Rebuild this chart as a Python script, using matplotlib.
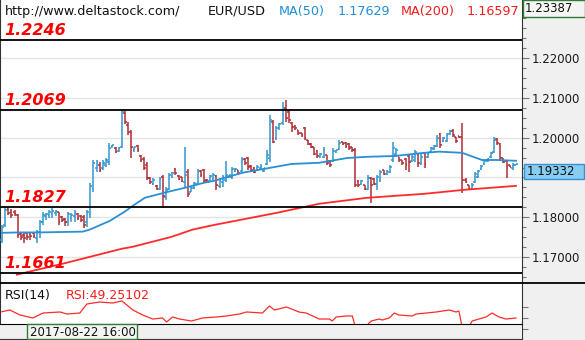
import numpy as np
import matplotlib.pyplot as plt
import matplotlib.transforms as mtransforms
from matplotlib.patches import Rectangle
from matplotlib.lines import Line2D
from matplotlib.ticker import FixedLocator, MultipleLocator, FuncFormatter, NullFormatter

# ---------------------------------------------------------------------
# EUR/USD bars (open / high / low / close)
# ---------------------------------------------------------------------
opens = [
    1.1744, 1.1781, 1.1821, 1.1814, 1.1814, 1.1806, 1.1759, 1.1756, 1.1761, 1.1759,
    1.1761, 1.1749, 1.1764, 1.1789, 1.1804, 1.1806, 1.1809, 1.1811, 1.1814, 1.1801,
    1.1796, 1.1789, 1.1799, 1.1804, 1.1809, 1.1804, 1.1801, 1.1789, 1.1809, 1.1874,
    1.1924, 1.1932, 1.1924, 1.1932, 1.1939, 1.1977, 1.1975, 1.1967, 1.1977, 1.2062,
    1.2032, 1.2015, 1.1970, 1.1980, 1.1954, 1.1947, 1.1932,
    1.1899, 1.1884, 1.1879, 1.1872, 1.1902, 1.1852, 1.1872,
    1.1904, 1.1922, 1.1904, 1.1902, 1.1889, 1.1914, 1.1864,
    1.1874, 1.1884, 1.1917, 1.1919, 1.1894, 1.1892,
    1.1897, 1.1904, 1.1879, 1.1889, 1.1894, 1.1902, 1.1902, 1.1917,
    1.1919, 1.1917, 1.1947, 1.1949, 1.1929, 1.1924, 1.1919, 1.1924, 1.1917,
    1.1934, 1.1949, 1.2040, 1.2000, 1.2025, 1.2037, 1.2075, 1.2065,
    1.2037, 1.2030, 1.2020, 1.2012, 1.2025, 1.1995, 1.1985, 1.1977,
    1.1967, 1.1952, 1.1952, 1.1957, 1.1942, 1.1942, 1.1965,
    1.1972, 1.1990, 1.1987, 1.1985, 1.1977, 1.1970, 1.1892, 1.1884,
    1.1882, 1.1872, 1.1899, 1.1897, 1.1884, 1.1894, 1.1919,
    1.1909, 1.1914, 1.1944, 1.1959, 1.1952, 1.1944, 1.1947,
    1.1954, 1.1942, 1.1944, 1.1959, 1.1934, 1.1962, 1.1952,
    1.1965, 1.1972, 1.1980, 1.2010, 1.1992,
    1.1992, 1.2010, 1.2017, 1.2002, 1.2005, 1.2002, 1.1894, 1.1882,
    1.1872, 1.1889, 1.1902, 1.1922, 1.1934, 1.1942,
    1.1952, 1.1965, 1.1997, 1.1985, 1.1949, 1.1942, 1.1932,
    1.1924, 1.1932,
]
highs = [
    1.1781, 1.1826, 1.1826, 1.1821, 1.1819, 1.1809, 1.1764, 1.1764, 1.1764, 1.1761,
    1.1764, 1.1769, 1.1794, 1.1814, 1.1811, 1.1819, 1.1824, 1.1819, 1.1814, 1.1804,
    1.1799, 1.1814, 1.1811, 1.1819, 1.1811, 1.1806, 1.1806, 1.1819, 1.1887, 1.1944,
    1.1944, 1.1939, 1.1944, 1.1949, 1.1987, 1.1982, 1.1977, 1.1977, 1.2070, 1.2067,
    1.2040, 1.2020, 1.1977, 1.1982, 1.1957, 1.1952, 1.1939,
    1.1902, 1.1899, 1.1882, 1.1902, 1.1907, 1.1877, 1.1912,
    1.1914, 1.1924, 1.1907, 1.1902, 1.1977, 1.1922, 1.1877,
    1.1889, 1.1922, 1.1919, 1.1922, 1.1897, 1.1907,
    1.1912, 1.1907, 1.1899, 1.1907, 1.1942, 1.1907, 1.1927, 1.1924,
    1.1919, 1.1952, 1.1949, 1.1952, 1.1932, 1.1927, 1.1932, 1.1934, 1.1924,
    1.1970, 1.2057, 1.2045, 1.2030, 1.2037, 1.2090, 1.2095, 1.2070,
    1.2040, 1.2032, 1.2020, 1.2012, 1.2027, 1.1995, 1.1987, 1.1977,
    1.1970, 1.1962, 1.1977, 1.1957, 1.1944, 1.1975, 1.1970,
    1.1995, 1.1990, 1.1990, 1.1987, 1.1977, 1.1975, 1.1894, 1.1894,
    1.1882, 1.1907, 1.1902, 1.1899, 1.1907, 1.1919, 1.1919,
    1.1919, 1.1932, 1.1990, 1.1975, 1.1952, 1.1944, 1.1949,
    1.1957, 1.1957, 1.1970, 1.1962, 1.1962, 1.1965, 1.1965,
    1.1977, 1.1982, 1.2007, 1.2012, 1.2002,
    1.2012, 1.2020, 1.2022, 1.2002, 1.2005, 1.2037, 1.1899, 1.1882,
    1.1887, 1.1914, 1.1919, 1.1932, 1.1944, 1.1949,
    1.1965, 1.2002, 1.2000, 1.1987, 1.1949, 1.1944, 1.1932,
    1.1937, 1.1934,
]
lows = [
    1.1736, 1.1776, 1.1806, 1.1799, 1.1804, 1.1749, 1.1744, 1.1736, 1.1744, 1.1744,
    1.1749, 1.1736, 1.1749, 1.1781, 1.1794, 1.1799, 1.1799, 1.1804, 1.1781, 1.1789,
    1.1779, 1.1779, 1.1789, 1.1789, 1.1794, 1.1789, 1.1774, 1.1776, 1.1799, 1.1864,
    1.1914, 1.1914, 1.1919, 1.1927, 1.1932, 1.1975, 1.1962, 1.1965, 1.1975, 1.2035,
    1.2007, 1.1949, 1.1965, 1.1965, 1.1939, 1.1919, 1.1894,
    1.1884, 1.1882, 1.1869, 1.1869, 1.1824, 1.1844, 1.1869,
    1.1899, 1.1907, 1.1894, 1.1889, 1.1877, 1.1852, 1.1864,
    1.1872, 1.1882, 1.1902, 1.1889, 1.1887, 1.1889,
    1.1894, 1.1869, 1.1874, 1.1877, 1.1889, 1.1899, 1.1897, 1.1914,
    1.1907, 1.1914, 1.1932, 1.1919, 1.1917, 1.1912, 1.1917, 1.1919, 1.1914,
    1.1932, 1.1939, 1.1987, 1.1995, 1.2020, 1.2032, 1.2040, 1.2037,
    1.2015, 1.2020, 1.2007, 1.2002, 1.1995, 1.1982, 1.1975, 1.1957,
    1.1949, 1.1949, 1.1949, 1.1932, 1.1927, 1.1939, 1.1962,
    1.1970, 1.1982, 1.1975, 1.1970, 1.1965, 1.1877, 1.1877, 1.1882,
    1.1869, 1.1869, 1.1836, 1.1882, 1.1869, 1.1889, 1.1907,
    1.1907, 1.1912, 1.1939, 1.1952, 1.1939, 1.1932, 1.1919,
    1.1914, 1.1939, 1.1939, 1.1927, 1.1932, 1.1924, 1.1949,
    1.1962, 1.1970, 1.1977, 1.1975, 1.1990,
    1.1990, 1.2007, 1.2002, 1.1987, 1.2000, 1.1862, 1.1887, 1.1869,
    1.1869, 1.1887, 1.1899, 1.1919, 1.1932, 1.1939,
    1.1949, 1.1962, 1.1982, 1.1944, 1.1937, 1.1899, 1.1927,
    1.1919, 1.1932,
]
closes = [
    1.1776, 1.1819, 1.1811, 1.1806, 1.1809, 1.1756, 1.1751, 1.1749, 1.1751, 1.1754,
    1.1754, 1.1764, 1.1789, 1.1806, 1.1809, 1.1814, 1.1816, 1.1816, 1.1789, 1.1794,
    1.1789, 1.1809, 1.1806, 1.1814, 1.1799, 1.1794, 1.1781, 1.1814, 1.1879, 1.1937,
    1.1939, 1.1919, 1.1937, 1.1944, 1.1975, 1.1982, 1.1965, 1.1975, 1.2065, 1.2040,
    1.2015, 1.1977, 1.1977, 1.1970, 1.1944, 1.1924, 1.1899,
    1.1889, 1.1894, 1.1872, 1.1897, 1.1854, 1.1869, 1.1907,
    1.1912, 1.1912, 1.1897, 1.1892, 1.1907, 1.1859, 1.1874,
    1.1887, 1.1914, 1.1907, 1.1892, 1.1889, 1.1904,
    1.1907, 1.1882, 1.1894, 1.1902, 1.1907, 1.1907, 1.1922, 1.1922,
    1.1912, 1.1944, 1.1937, 1.1927, 1.1919, 1.1914, 1.1927, 1.1929, 1.1924,
    1.1957, 1.2045, 1.1990, 1.2025, 1.2035, 1.2075, 1.2050, 1.2045,
    1.2027, 1.2025, 1.2012, 1.2007, 1.2000, 1.1985, 1.1977, 1.1959,
    1.1954, 1.1959, 1.1970, 1.1937, 1.1932, 1.1967, 1.1970,
    1.1987, 1.1985, 1.1980, 1.1975, 1.1970, 1.1882, 1.1882, 1.1892,
    1.1872, 1.1899, 1.1882, 1.1884, 1.1902, 1.1914, 1.1909,
    1.1917, 1.1927, 1.1975, 1.1970, 1.1944, 1.1937, 1.1932,
    1.1939, 1.1952, 1.1965, 1.1937, 1.1952, 1.1934, 1.1959,
    1.1975, 1.1980, 1.2000, 1.1982, 1.2000,
    1.2007, 1.2017, 1.2007, 1.1992, 1.2002, 1.1894, 1.1889, 1.1872,
    1.1882, 1.1909, 1.1917, 1.1929, 1.1942, 1.1947,
    1.1962, 1.1995, 1.1987, 1.1949, 1.1939, 1.1929, 1.1927,
    1.1932, 1.19332,
]

# moving averages, sampled at bar positions
ma50_idx = [0, 5.7, 12.0, 25.6, 27.8, 34.2, 38.9, 41.5, 45.3, 51.6, 57.9, 64.2, 67.4,
            76.3, 84.8, 91.8, 100.6, 109.5, 115.8, 124.4, 133.9, 138.6, 145.9,
            152.2, 157.0, 163]
ma50_val = [1.1761, 1.1762, 1.1762, 1.1764, 1.1769, 1.1791, 1.1814, 1.1829, 1.1849,
            1.1862, 1.1874, 1.1887, 1.1892, 1.1912, 1.1924, 1.1934, 1.1937, 1.1949,
            1.1952, 1.1954, 1.1962, 1.1965, 1.1962, 1.1944, 1.1944, 1.1942]
ma200_idx = [4.7, 20.6, 38.0, 41.5, 53.8, 60.4, 67.4, 87.0, 100.6, 115.8, 133.9, 146.5, 163]
ma200_val = [1.1656, 1.1686, 1.1721, 1.1726, 1.1751, 1.1769, 1.1781, 1.1811, 1.1834,
             1.1849, 1.1859, 1.1869, 1.1879]

# RSI(14)
rsi_idx = [0, 2.5, 5.7, 9.8, 13.0, 18.4, 20.6, 24.7, 26.9, 31.0, 35.1, 38.0, 39.6, 41.5,
           44.6, 47.8, 50.9, 52.2, 54.1, 56.3, 60.1, 63.6, 68.0, 71.2, 75.3, 77.5, 82.6,
           84.8, 86.4, 90.2, 94.3, 96.5, 100.6, 103.8, 104.7, 106.0, 109.2, 111.1,
           112.0, 115.5, 117.1, 119.6, 120.6, 122.8, 124.4, 125.9, 130.1, 131.3, 134.5,
           137.7, 141.8, 144.0, 144.9, 145.9, 148.1, 149.1, 153.5, 155.4, 157.6,
           159.8, 163]
rsi_val = [60.7, 63.8, 54.7, 49.3, 58.3, 60.2, 56.5, 58.3, 74.7, 78.3, 76.5, 80.2, 72.9,
           63.8, 54.7, 47.4, 49.3, 42.0, 51.1, 47.4, 43.8, 49.3, 51.1, 52.9, 56.5, 60.2,
           58.3, 71.1, 63.8, 69.3, 60.0, 58.3, 47.4, 47.4, 43.8, 51.1, 52.9, 52.9, 34.0,
           35.0, 43.8, 47.4, 45.6, 49.3, 58.3, 54.7, 52.9, 56.5, 58.3, 60.2, 63.8, 60.2,
           62.0, 33.0, 34.0, 43.8, 51.1, 58.3, 51.1, 47.4, 49.25]

levels = [1.2246, 1.2069, 1.1827, 1.1661]
price_ticks = [1.17, 1.18, 1.19, 1.20, 1.21, 1.22]
last_price = 1.19332
scale_top = 1.23387
ma50_last = 1.17629
ma200_last = 1.16597
rsi_last = 49.25102
date_label = "2017-08-22 16:00"

UP = '#3096d0'
DOWN = '#b02c34'
GREEN = '#2f7d32'

W, H = 585, 340
fig = plt.figure(figsize=(W / 100, H / 100), dpi=100, facecolor='#f0f0f0')


def rect(l, t, r, b):
    # pixel box (from top-left) -> figure fraction [left, bottom, width, height]
    return [l / W, 1 - b / H, (r - l) / W, (b - t) / H]


ax = fig.add_axes(rect(0, 0, 522, 283))
ax_rsi = fig.add_axes(rect(0, 283, 522, 340))
ax_t = fig.add_axes(rect(0, 324, 522, 339))

# ---------------------------------------------------------------------
# price panel
# ---------------------------------------------------------------------
o, h, l, c = map(np.array, (opens, highs, lows, closes))
x = np.arange(len(o))
col = np.where(c >= o, UP, DOWN)
ax.vlines(x, l, h, colors=col, lw=1.1, zorder=3)
ax.hlines(o, x - 0.55, x, colors=col, lw=1.1, zorder=3)
ax.hlines(c, x, x + 0.55, colors=col, lw=1.1, zorder=3)

ax.plot(ma50_idx, ma50_val, color='#2a8fd4', lw=1.3, zorder=4)
ax.plot(ma200_idx, ma200_val, color='#ff2b2b', lw=1.3, zorder=4)

xlim = (-0.63, 164.9)
ax.set_xlim(*xlim)
ax.set_ylim(1.16349, 1.23460)
ax.set_facecolor('white')

lab_tr = mtransforms.offset_copy(ax.get_yaxis_transform(), fig=fig, x=0, y=5, units='dots')
for lv in levels:
    ax.axhline(lv, color='black', lw=1.3, zorder=5)
    ax.text(4 / 522, lv, f'{lv:.4f}', transform=lab_tr, color='#ff0000', fontsize=11.5,
            fontweight='bold', fontstyle='italic', va='baseline', ha='left', zorder=6)

ax.yaxis.tick_right()
ax.yaxis.set_major_locator(FixedLocator(price_ticks))
# the 1.19 label sits under the last-price marker
ax.yaxis.set_major_formatter(FuncFormatter(lambda v, p: '' if abs(v - 1.19) < 1e-6 else f'{v:.5f}'))
ax.yaxis.set_minor_locator(MultipleLocator(0.0025))
ax.tick_params(axis='y', which='major', length=5, width=0.8, color='#777',
               labelsize=8.5, labelcolor='#1a1a1a', pad=2)
ax.tick_params(axis='y', which='minor', length=3, width=0.8, color='#777')
ax.set_xticks([])
ax.grid(axis='y', which='major', color='#e4e4e4', lw=1, zorder=0)
for s in ('top', 'bottom'):
    ax.spines[s].set_visible(False)
ax.spines['right'].set_color('#333')
ax.spines['left'].set_color('#333')

# last price marker on the scale
bt = mtransforms.blended_transform_factory(fig.transFigure, ax.transData)
box_h = 15 / 283 * (1.23460 - 1.16349)
ax.add_patch(Rectangle((524 / W, last_price - box_h), 60 / W, box_h, transform=bt,
                       fc='#86cdf1', ec='#3a8fd0', lw=1, clip_on=False, zorder=10))
ax.text(527 / W, last_price - box_h / 2, f'{last_price:.5f}', transform=bt, fontsize=8.5,
        color='#111', va='center', ha='left', clip_on=False, zorder=11)

# ---------------------------------------------------------------------
# RSI panel
# ---------------------------------------------------------------------
ax_rsi.plot(rsi_idx, rsi_val, color='#ff2a2a', lw=0.9)
ax_rsi.set_xlim(*xlim)
ax_rsi.set_ylim(9.25, 112.9)
ax_rsi.set_facecolor('white')
ax_rsi.set_xticks([])
ax_rsi.yaxis.tick_right()
ax_rsi.set_yticks([30, 50, 70])
ax_rsi.yaxis.set_major_formatter(NullFormatter())
ax_rsi.tick_params(axis='y', length=4, width=0.8, color='#777')
for s in ('top', 'bottom'):
    ax_rsi.spines[s].set_visible(False)
ax_rsi.spines['right'].set_color('#333')
ax_rsi.spines['left'].set_color('#333')
ax_rsi.text(5 / 522, 0.72, 'RSI(14)', transform=ax_rsi.transAxes, fontsize=9, color='#111')
ax_rsi.text(66 / 522, 0.72, f'RSI:{rsi_last:.5f}', transform=ax_rsi.transAxes,
            fontsize=9, color='#ff1a1a')

# time strip
ax_t.set_facecolor('#f0f0f0')
ax_t.set_xticks([])
ax_t.set_yticks([])
for s in ('left', 'right'):
    ax_t.spines[s].set_visible(False)
ax_t.spines['top'].set_color('black')
ax_t.spines['bottom'].set_color('#333')
fig.add_artist(Rectangle((27 / W, 1 - 339 / H), 110 / W, 15 / H, transform=fig.transFigure,
                         fc='#f4f4f4', ec=GREEN, lw=1))
fig.text(30 / W, 1 - 332 / H, date_label, fontsize=8.5, color='#111', va='center')

# ---------------------------------------------------------------------
# header and scale top
# ---------------------------------------------------------------------
fig.add_artist(Line2D([0, 1], [1 - 283 / H] * 2, transform=fig.transFigure, color='black', lw=1.3))
fig.add_artist(Rectangle((522.5 / W, 1 - 17 / H), 62 / W, 16.5 / H, transform=fig.transFigure,
                         fc='#f4f4f4', ec=GREEN, lw=1))
fig.text(525 / W, 1 - 8.5 / H, f'{scale_top:.5f}', fontsize=8.5, color='#111', va='center')

base = 1 - 15 / H
fig.text(5 / W, base, 'http://www.deltastock.com/', fontsize=9.2, color='#111', va='baseline')
fig.text(208 / W, base, 'EUR/USD', fontsize=9.2, color='#111', va='baseline')
fig.text(279 / W, base, 'MA(50)', fontsize=9.2, color='#1e8fd6', va='baseline')
fig.text(338 / W, base, f'{ma50_last:.5f}', fontsize=9.2, color='#1e8fd6', va='baseline')
fig.text(401 / W, base, 'MA(200)', fontsize=9.2, color='#f01c1c', va='baseline')
fig.text(467 / W, base, f'{ma200_last:.5f}', fontsize=9.2, color='#f01c1c', va='baseline')

fig.savefig('out.png', dpi=100, facecolor=fig.get_facecolor())
